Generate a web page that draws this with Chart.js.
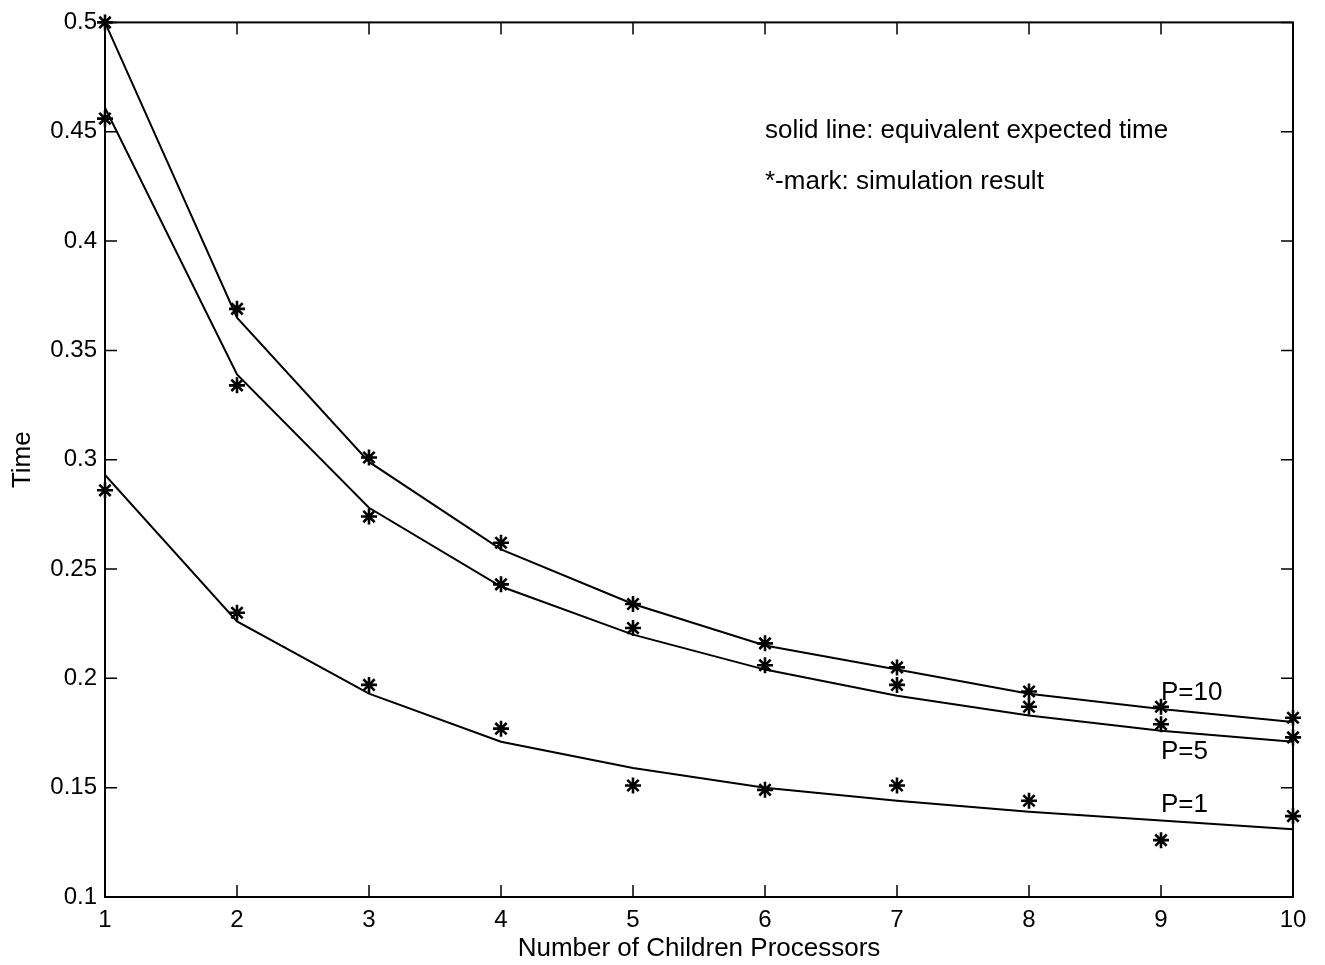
<!DOCTYPE html>
<html>
<head>
<meta charset="utf-8">
<script src="https://cdn.jsdelivr.net/npm/chart.js@4.4.1/dist/chart.umd.min.js"></script>
<style>
  html, body { margin: 0; padding: 0; background: #fff; }
  canvas { display: block; }
</style>
</head>
<body>
<canvas id="chart" width="1325" height="965"></canvas>
<script>
// number of children processors
const processors = [1, 2, 3, 4, 5, 6, 7, 8, 9, 10];

// solid lines: equivalent expected time
const expectedP10 = [0.500, 0.365, 0.299, 0.259, 0.234, 0.215, 0.204, 0.193, 0.186, 0.180];
const expectedP5  = [0.461, 0.339, 0.278, 0.242, 0.220, 0.204, 0.192, 0.183, 0.176, 0.171];
const expectedP1  = [0.293, 0.226, 0.193, 0.171, 0.159, 0.150, 0.144, 0.139, 0.135, 0.131];

// *-marks: simulation result
const simP10 = [0.500, 0.369, 0.301, 0.262, 0.234, 0.216, 0.205, 0.194, 0.187, 0.182];
const simP5  = [0.456, 0.334, 0.274, 0.243, 0.223, 0.206, 0.197, 0.187, 0.179, 0.173];
const simP1  = [0.286, 0.230, 0.197, 0.177, 0.151, 0.149, 0.151, 0.144, 0.126, 0.137];

const curveLabels = ["P=10", "P=5", "P=1"];
const curveLabelY = [0.1934, 0.1664, 0.1421];
const noteLines = ["solid line: equivalent expected time", "*-mark: simulation result"];
const noteY = [0.4506, 0.4272];

const FONT = "'Liberation Sans', Arial, Helvetica, sans-serif";

function pts(ys) {
    return processors.map((x, i) => ({ x: x, y: ys[i] }));
}

function lineSet(label, ys) {
    return {
        label: label,
        data: pts(ys),
        showLine: true,
        borderColor: "#000",
        borderWidth: 2,
        pointRadius: 0,
        tension: 0
    };
}

function starSet(label, ys) {
    return {
        label: label,
        data: pts(ys),
        showLine: false,
        pointStyle: "star",
        pointRadius: 8,
        borderColor: "#000",
        backgroundColor: "#000",
        pointBorderWidth: 2.6,
        clip: false
    };
}

// box round the plot with inward ticks, as in the matlab figure
const boxPlugin = {
    id: "box",
    afterDatasetsDraw(chart) {
        const c = chart.ctx;
        const a = chart.chartArea;
        const xs = chart.scales.x, ys = chart.scales.y;
        const len = 12;
        c.save();
        c.strokeStyle = "#000";
        c.lineWidth = 2;
        c.strokeRect(a.left, a.top, a.right - a.left, a.bottom - a.top);
        c.lineWidth = 1.5;
        c.beginPath();
        xs.ticks.forEach(t => {
            const px = xs.getPixelForValue(t.value);
            c.moveTo(px, a.bottom); c.lineTo(px, a.bottom - len);
            c.moveTo(px, a.top); c.lineTo(px, a.top + len);
        });
        ys.ticks.forEach(t => {
            const py = ys.getPixelForValue(t.value);
            c.moveTo(a.left, py); c.lineTo(a.left + len, py);
            c.moveTo(a.right, py); c.lineTo(a.right - len, py);
        });
        c.stroke();

        // text notes
        c.fillStyle = "#000";
        c.font = "26px " + FONT;
        c.textAlign = "left";
        c.textBaseline = "middle";
        noteLines.forEach((txt, i) => {
            c.fillText(txt, xs.getPixelForValue(6.0), ys.getPixelForValue(noteY[i]));
        });
        curveLabels.forEach((txt, i) => {
            c.fillText(txt, xs.getPixelForValue(9.0), ys.getPixelForValue(curveLabelY[i]));
        });
        c.restore();
    }
};

const ctx = document.getElementById("chart").getContext("2d");

new Chart(ctx, {
    type: "scatter",
    data: {
        datasets: [
            lineSet("P=10", expectedP10),
            lineSet("P=5", expectedP5),
            lineSet("P=1", expectedP1),
            starSet("P=10 sim", simP10),
            starSet("P=5 sim", simP5),
            starSet("P=1 sim", simP1)
        ]
    },
    options: {
        responsive: false,
        animation: false,
        layout: {
            padding: { top: 22, right: 32, left: 0, bottom: 0 }
        },
        plugins: {
            legend: { display: false },
            tooltip: { enabled: false }
        },
        scales: {
            x: {
                type: "linear",
                min: 1,
                max: 10,
                afterFit: s => { s.height = 68; },
                grid: { display: false, drawTicks: false },
                border: { display: false },
                ticks: {
                    stepSize: 1,
                    padding: 9,
                    color: "#000",
                    font: { family: FONT, size: 24 }
                },
                title: {
                    display: true,
                    text: "Number of Children Processors",
                    color: "#000",
                    font: { family: FONT, size: 26 },
                    padding: { top: 0, bottom: 1 }
                }
            },
            y: {
                type: "linear",
                min: 0.1,
                max: 0.5,
                afterFit: s => { s.width = 105; },
                grid: { display: false, drawTicks: false },
                border: { display: false },
                ticks: {
                    stepSize: 0.05,
                    padding: 8,
                    color: "#000",
                    font: { family: FONT, size: 24 },
                    callback: v => String(parseFloat(v.toFixed(2)))
                },
                title: {
                    display: true,
                    text: "Time",
                    color: "#000",
                    font: { family: FONT, size: 26 },
                    padding: { top: 7, bottom: 0 }
                }
            }
        }
    },
    plugins: [boxPlugin]
});
</script>
</body>
</html>
